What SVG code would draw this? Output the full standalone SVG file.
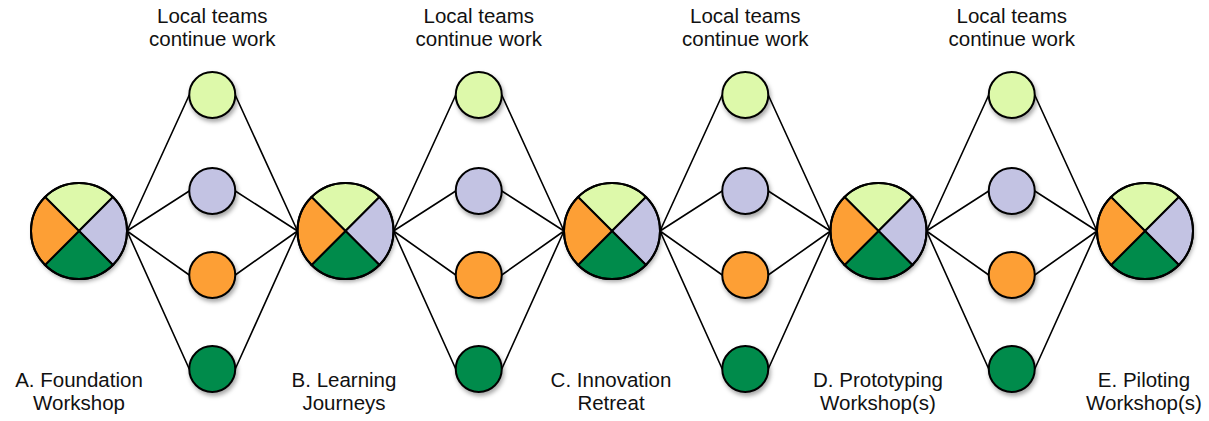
<svg xmlns="http://www.w3.org/2000/svg" xmlns:xlink="http://www.w3.org/1999/xlink" width="1209" height="421" viewBox="0 0 1209 421">
<style>
.lbl{font-family:"Liberation Sans",Arial,sans-serif;font-size:20.5px;fill:#111;text-anchor:middle}
.ln{stroke:#000;stroke-width:1.6;fill:none}
.q{stroke:#000;stroke-width:2}
.sc{stroke:#000;stroke-width:2}
.lg{fill:#ddf9aa}.lv{fill:#c3c3e3}.or{fill:#fd9f35}.dg{fill:#008b4b}
</style>
<defs>
<filter id="sh" x="-30%" y="-30%" width="160%" height="160%">
<feDropShadow dx="1.5" dy="3" stdDeviation="2" flood-color="#000" flood-opacity="0.35"/>
</filter>
<g id="big">
<circle cx="0" cy="0" r="48" fill="#fff" filter="url(#sh)"/>
<path class="q lg" d="M0,0 L-33.94,-33.94 A48,48 0 0 1 33.94,-33.94 Z"/>
<path class="q lv" d="M0,0 L33.94,-33.94 A48,48 0 0 1 33.94,33.94 Z"/>
<path class="q dg" d="M0,0 L33.94,33.94 A48,48 0 0 1 -33.94,33.94 Z"/>
<path class="q or" d="M0,0 L-33.94,33.94 A48,48 0 0 1 -33.94,-33.94 Z"/>
<circle cx="0" cy="0" r="48" fill="none" stroke="#000" stroke-width="2"/>
</g>
<g id="smalls">
<circle class="sc lg" cx="0" cy="95" r="23" filter="url(#sh)"/>
<circle class="sc lv" cx="0" cy="191" r="23" filter="url(#sh)"/>
<circle class="sc or" cx="0" cy="275" r="23" filter="url(#sh)"/>
<circle class="sc dg" cx="0" cy="369" r="23" filter="url(#sh)"/>
</g>
<g id="fan">
<path class="ln" d="M0,231 L62.25,95 M0,231 L62.25,191 M0,231 L62.25,275 M0,231 L62.25,369"/>
<path class="ln" d="M170.5,231 L108.25,95 M170.5,231 L108.25,191 M170.5,231 L108.25,275 M170.5,231 L108.25,369"/>
</g>
</defs>
<g id="connectors">
<use xlink:href="#fan" transform="translate(127,0)"/>
<use xlink:href="#fan" transform="translate(393.5,0)"/>
<use xlink:href="#fan" transform="translate(660,0)"/>
<use xlink:href="#fan" transform="translate(926.5,0)"/>
</g>
<g id="node-A"><use xlink:href="#big" transform="translate(79,231)"/>
<text class="lbl" x="79" y="387">A. Foundation</text><text class="lbl" x="79" y="410">Workshop</text></g>
<g id="node-B"><use xlink:href="#big" transform="translate(345.5,231)"/>
<text class="lbl" x="344" y="387">B. Learning</text><text class="lbl" x="344" y="410">Journeys</text></g>
<g id="node-C"><use xlink:href="#big" transform="translate(612,231)"/>
<text class="lbl" x="611" y="387">C. Innovation</text><text class="lbl" x="611" y="410">Retreat</text></g>
<g id="node-D"><use xlink:href="#big" transform="translate(878.5,231)"/>
<text class="lbl" x="878" y="387">D. Prototyping</text><text class="lbl" x="878" y="410">Workshop(s)</text></g>
<g id="node-E"><use xlink:href="#big" transform="translate(1145,231)"/>
<text class="lbl" x="1144" y="387">E. Piloting</text><text class="lbl" x="1144" y="410">Workshop(s)</text></g>
<g id="teams-1"><use xlink:href="#smalls" transform="translate(212.25,0)"/>
<text class="lbl" x="212.25" y="23">Local teams</text><text class="lbl" x="212.25" y="46">continue work</text></g>
<g id="teams-2"><use xlink:href="#smalls" transform="translate(478.75,0)"/>
<text class="lbl" x="478.75" y="23">Local teams</text><text class="lbl" x="478.75" y="46">continue work</text></g>
<g id="teams-3"><use xlink:href="#smalls" transform="translate(745.25,0)"/>
<text class="lbl" x="745.25" y="23">Local teams</text><text class="lbl" x="745.25" y="46">continue work</text></g>
<g id="teams-4"><use xlink:href="#smalls" transform="translate(1011.75,0)"/>
<text class="lbl" x="1011.75" y="23">Local teams</text><text class="lbl" x="1011.75" y="46">continue work</text></g>
</svg>
